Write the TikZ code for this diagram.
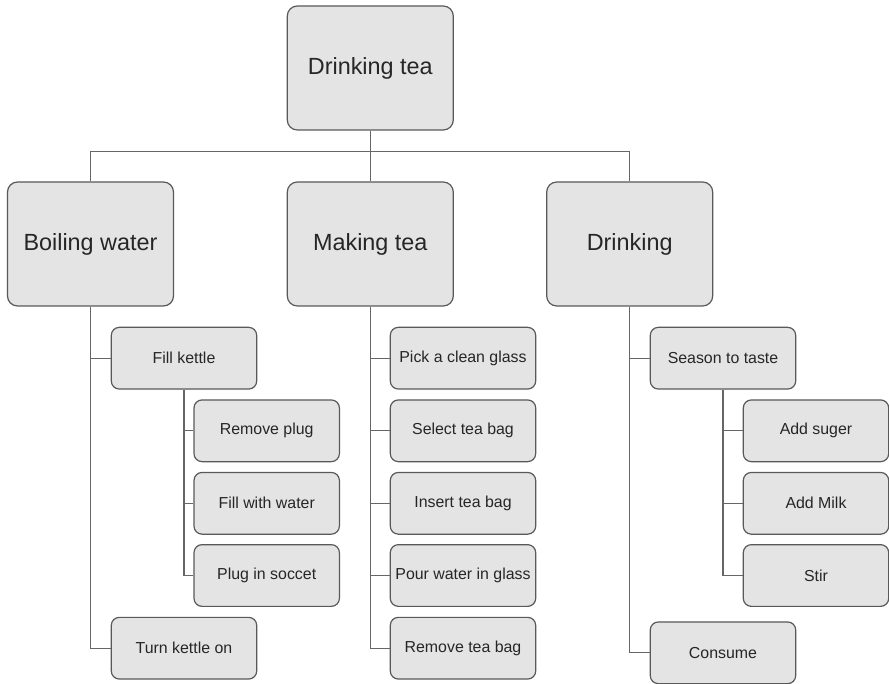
\documentclass[tikz,border=0pt]{standalone}
\usepackage{fontspec}
\setmainfont{Liberation Sans}
\definecolor{boxfill}{HTML}{E4E4E4}
\definecolor{boxline}{HTML}{595959}
\definecolor{wire}{HTML}{666666}
\definecolor{ink}{HTML}{262626}
\begin{document}
\begin{tikzpicture}[x=1pt, y=-1pt,
  bigbox/.style={draw=boxline, fill=boxfill, line width=1.2pt, rounded corners=10pt,
    minimum width=166pt, minimum height=124pt, inner sep=0pt, text=ink,
    font=\fontsize{23.4}{28}\selectfont},
  smallbox/.style={draw=boxline, fill=boxfill, line width=1.2pt, rounded corners=8pt,
    minimum width=145.4pt, minimum height=61.7pt, inner sep=0pt, text=ink,
    font=\fontsize{15.9}{19}\selectfont},
  link/.style={draw=wire, line width=1.3pt}]
\useasboundingbox (0,0) rectangle (889,684);

% level 0 and 1
\node[bigbox] (top)   at (370.3,68)  {Drinking tea};
\node[bigbox] (boil)  at (90.5,244)  {Boiling water};
\node[bigbox] (make)  at (370.3,244) {Making tea};
\node[bigbox] (drink) at (629.7,244) {Drinking};

% boiling water branch
\node[smallbox] (fill)   at (184,358.2)   {Fill kettle};
\node[smallbox] (plug)   at (266.7,430.8) {Remove plug};
\node[smallbox] (water)  at (266.7,503.3) {Fill with water};
\node[smallbox] (socket) at (266.7,575.5) {Plug in soccet};
\node[smallbox] (turn)   at (184,648.2)   {Turn kettle on};

% making tea branch
\node[smallbox] (glass)  at (463,358.2) {Pick a clean glass};
\node[smallbox] (select) at (463,430.8) {Select tea bag};
\node[smallbox] (insert) at (463,503.3) {Insert tea bag};
\node[smallbox] (pour)   at (463,575.5) {Pour water in glass};
\node[smallbox] (remove) at (463,648.2) {Remove tea bag};

% drinking branch
\node[smallbox] (season)  at (723,358.2) {Season to taste};
\node[smallbox] (sugar)   at (816,430.8) {Add suger};
\node[smallbox] (milk)    at (816,503.3) {Add Milk};
\node[smallbox] (stir)    at (816,575.5) {Stir};
\node[smallbox] (consume) at (723,652.8) {Consume};

% top-level bus
\draw[link] (top.south) -- ++(0,21) coordinate (bus);
\draw[link] (boil.north) |- (bus) -| (drink.north);
\draw[link] (bus) -- (make.north);

% boiling water connectors
\draw[link] (boil.south) |- (turn.west);
\draw[link] (boil.south |- fill.west) -- (fill.west);
\draw[link] (fill.south) |- (socket.west);
\draw[link] (fill.south |- plug.west) -- (plug.west);
\draw[link] (fill.south |- water.west) -- (water.west);

% making tea connectors
\draw[link] (make.south) |- (remove.west);
\draw[link] (make.south |- glass.west) -- (glass.west);
\draw[link] (make.south |- select.west) -- (select.west);
\draw[link] (make.south |- insert.west) -- (insert.west);
\draw[link] (make.south |- pour.west) -- (pour.west);

% drinking connectors
\draw[link] (drink.south) |- (consume.west);
\draw[link] (drink.south |- season.west) -- (season.west);
\draw[link] (season.south) |- (stir.west);
\draw[link] (season.south |- sugar.west) -- (sugar.west);
\draw[link] (season.south |- milk.west) -- (milk.west);
\end{tikzpicture}
\end{document}
